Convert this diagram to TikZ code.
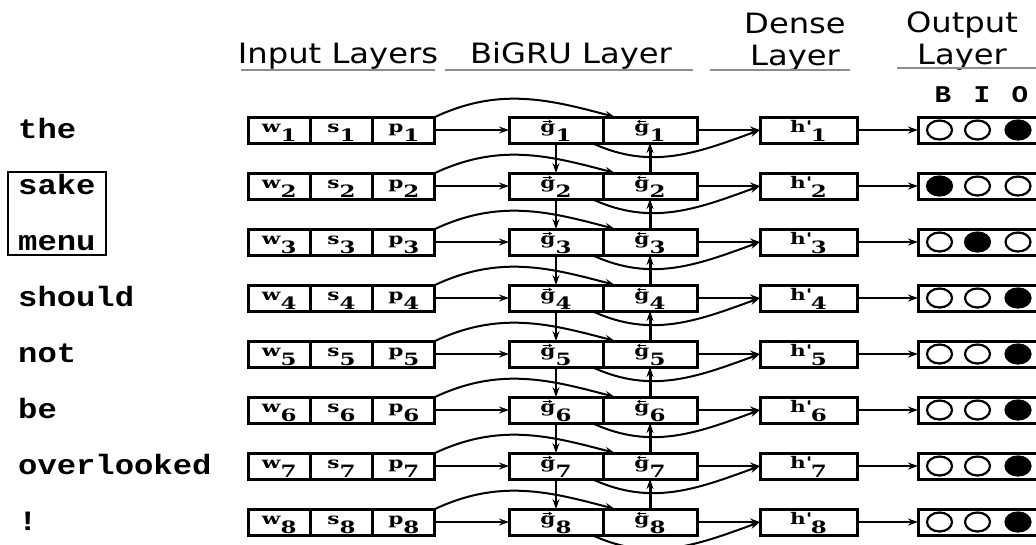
\documentclass[tikz,border=0pt]{standalone}
\usepackage{fontspec}
\usetikzlibrary{arrows.meta}

\newfontfamily\headfont{DejaVu Sans}[FakeStretch=1.15]
\newfontfamily\wordfont{Liberation Mono}[FakeStretch=1.15]
\newfontfamily\cellfont{DejaVu Serif}[FakeStretch=1.35]

% cell label: letter with a big, low index
\newcommand{\lblsub}[2]{{\cellfont\bfseries\fontsize{16}{16}\selectfont #1\raisebox{-9.5pt}{\fontsize{17}{17}\selectfont #2}}}

\begin{document}
\begin{tikzpicture}[
  x=1pt, y=1pt,
  cellbox/.style={draw, line width=3pt, minimum height=26pt, inner sep=0pt, outer sep=0pt, text height=12.5pt, text depth=8.5pt},
  inbox/.style={cellbox, minimum width=62.3pt},
  grubox/.style={cellbox, minimum width=94pt},
  densebox/.style={cellbox, minimum width=97pt},
  outbox/.style={draw, line width=3pt, minimum width=132pt, minimum height=26pt, inner sep=0pt, outer sep=0pt},
  word/.style={anchor=base west, inner sep=0pt, font=\wordfont\bfseries\fontsize{28}{28}\selectfont},
  bio/.style={anchor=base, inner sep=0pt, font=\wordfont\bfseries\fontsize{24}{24}\selectfont},
  header/.style={inner sep=0pt, align=center, font=\headfont\fontsize{28}{32}\selectfont},
  rule/.style={draw=black!45, line width=1.5pt},
  link/.style={-{Stealth[length=10pt, width=7pt]}, line width=2pt},
  blink/.style={link, line width=3pt},
  vec/.style={-{Stealth[length=3.5pt, width=4pt]}, line width=1.2pt},
  tag/.style={line width=2.2pt}
]
\useasboundingbox (0,0) rectangle (1036,-544);
\clip (0,0) rectangle (1036,-544);

% Column headers
\node[header, anchor=base] (inhead) at (338,-63) {Input Layers};
\node[header, anchor=base] (gruhead) at (571,-63) {BiGRU Layer};
\node[header, anchor=north] (densehead) at (795,-13) {Dense\\Layer};
\node[header, anchor=north] (outhead) at (962,-12) {Output\\Layer};
\draw[rule] (241,-70) -- (435,-70);
\draw[rule] (445,-70) -- (693,-70);
\draw[rule] (710,-70) -- (850,-70);
\draw[rule] (897,-68) -- (1036,-68);

% Tag names above the output circles
\node[bio] (tagB) at (943,-102) {B};
\node[bio] (tagI) at (982,-102) {I};
\node[bio] (tagO) at (1020,-102) {O};

% One row per token (\b = filled circle)
\foreach \i/\w/\b in {1/the/3, 2/sake/1, 3/menu/2, 4/should/3, 5/not/3, 6/be/3, 7/overlooked/3, 8/!/3} {
  \pgfmathsetmacro\y{-130-56*(\i-1)}
  \node[word] (word\i) at (18,\y-8) {\w};
  \node[inbox] (w\i) at (279.2,\y) {\lblsub{w}{\i}};
  \node[inbox] (s\i) at (341.5,\y) {\lblsub{s}{\i}};
  \node[inbox] (p\i) at (403.8,\y) {\lblsub{p}{\i}};
  \node[grubox] (gf\i) at (556,\y) {\lblsub{g}{\i}};
  \node[grubox] (gb\i) at (650,\y) {\lblsub{g}{\i}};
  \node[densebox] (h\i) at (808.5,\y) {\lblsub{h\textquotesingle}{\i}};
  \node[outbox] (out\i) at (984,\y) {};
  % direction marks over the g's
  \draw[vec] ([xshift=-13pt, yshift=-4.5pt]gf\i.north) -- ++(9pt,0);
  \draw[vec] ([xshift=-4pt, yshift=-4.5pt]gb\i.north) -- ++(-9pt,0);
  \foreach \k/\cx in {1/-44.5, 2/-6.5, 3/34} {
    \ifnum\k=\b \def\fillc{black}\else\def\fillc{white}\fi
    \draw[tag, fill=\fillc] ([xshift=\cx pt]out\i.center) ellipse [x radius=12.5, y radius=9.5];
  }
  % arrows of the row
  \draw[link] (p\i.east) -- (gf\i.west);
  \draw[link] (p\i.north east) to[out=25, in=165] ([xshift=12pt]gb\i.north west);
  \draw[link] (gb\i.east) -- (h\i.west);
  \draw[link] ([xshift=-11pt]gf\i.south east) to[out=-25, in=200] (h\i.west);
  \draw[link] (h\i.east) -- (out\i.west);
}

% Forward chain goes down, backward chain goes up
\foreach \i in {1,...,7} {
  \pgfmathtruncatemacro\j{\i+1}
  \draw[link] (gf\i.south) -- (gf\j.north);
  \draw[blink] (gb\j.north) -- (gb\i.south);
}

% Box round the multi-word term
\node[draw, line width=2.6pt, minimum width=98pt, minimum height=83pt, inner sep=0pt] (term) at (57,-213.5) {};

\end{tikzpicture}
\end{document}
